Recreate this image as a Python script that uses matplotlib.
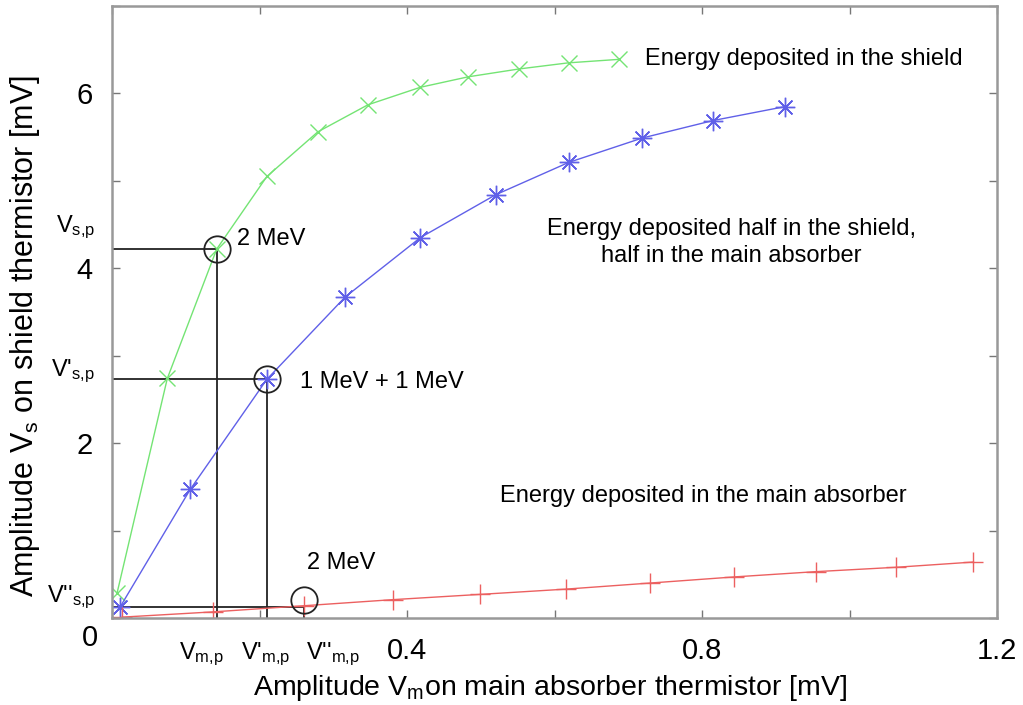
import matplotlib
matplotlib.use("Agg")
import matplotlib.pyplot as plt

plt.rcParams['font.family'] = ['Liberation Sans', 'DejaVu Sans']
plt.rcParams['mathtext.fontset'] = 'custom'
plt.rcParams['mathtext.rm'] = 'Liberation Sans'
plt.rcParams['mathtext.it'] = 'Liberation Sans'
plt.rcParams['mathtext.default'] = 'regular'

# datos (mV)
shield_x = [0.007, 0.075, 0.142, 0.210, 0.279, 0.347, 0.418, 0.483, 0.552, 0.619, 0.688]
shield_y = [0.29, 2.74, 4.22, 5.05, 5.56, 5.87, 6.07, 6.19, 6.28, 6.35, 6.39]

half_x = [0.011, 0.106, 0.210, 0.316, 0.418, 0.520, 0.619, 0.719, 0.815, 0.913]
half_y = [0.126, 1.47, 2.73, 3.67, 4.35, 4.84, 5.21, 5.49, 5.69, 5.85]

main_x = [0.014, 0.137, 0.260, 0.381, 0.499, 0.615, 0.730, 0.844, 0.954, 1.063, 1.168]
main_y = [0.01, 0.07, 0.14, 0.21, 0.27, 0.33, 0.40, 0.47, 0.53, 0.58, 0.64]

# puntos marcados con circulo (x, y)
ref_x = [0.142, 0.210, 0.261]
ref_y = [4.215, 2.73, 0.126]
circ_y = [4.215, 2.73, 0.206]
ref_ylabels = ["V$_{s{,}p}$", "V'$_{s{,}p}$", "V''$_{s{,}p}$"]
ref_ylabel_pos = [4.47, 2.82, 0.24]
ref_xlabels = ["V$_{m{,}p}$", "V'$_{m{,}p}$", "V''$_{m{,}p}$"]
ref_xlabel_pos = [0.121, 0.209, 0.300]

fig = plt.figure(figsize=(10.23, 7.05), dpi=100)
ax = fig.add_axes([112/1023, 1-618/705, (997-112)/1023, (618-6)/705])

ax.plot(shield_x, shield_y, color='#74e474', lw=1.0, marker='x', ms=12, mew=1.0)
ax.plot(half_x, half_y, color='#6060e8', lw=1.0, marker=(8, 2, 0), ms=14, mew=1.0)
ax.plot(main_x, main_y, color='#ec6060', lw=1.0, marker='+', ms=15, mew=1.0)

# lineas guia y circulos
for i in range(3):
    ax.plot([0, ref_x[i]], [ref_y[i], ref_y[i]], color='#222222', lw=1.3, zorder=1)
    ax.plot([ref_x[i], ref_x[i]], [0, ref_y[i]], color='#222222', lw=1.3, zorder=1)
    ax.plot(ref_x[i], circ_y[i], marker='o', ms=19, mfc='none', mec='#222222', mew=1.3)
    ax.text(-0.023, ref_ylabel_pos[i], ref_ylabels[i], ha='right', va='center', fontsize=17)
    ax.text(ref_xlabel_pos[i], -0.42, ref_xlabels[i], ha='center', va='center', fontsize=17)

ax.text(0.170, 4.33, "2 MeV", fontsize=17, va='center')
ax.text(0.255, 2.70, "1 MeV + 1 MeV", fontsize=17, va='center')
ax.text(0.265, 0.63, "2 MeV", fontsize=17, va='center')
ax.text(0.723, 6.39, "Energy deposited in the shield", fontsize=17, va='center')
ax.text(0.84, 4.30, "Energy deposited half in the shield,\nhalf in the main absorber",
        fontsize=17, ha='center', va='center', linespacing=1.3)
ax.text(0.526, 1.39, "Energy deposited in the main absorber", fontsize=17, va='center')

ax.set_xlim(0, 1.2)
ax.set_ylim(0, 7)
ax.set_xticks([0, 0.2, 0.4, 0.6, 0.8, 1.0, 1.2])
ax.set_xticklabels(['', '', '0.4', '', '0.8', '', '1.2'], fontsize=21)
ax.set_yticks([0, 1, 2, 3, 4, 5, 6, 7])
ax.set_yticklabels(['', '', '2', '', '4', '', '6', ''], fontsize=21)
ax.tick_params(direction='in', length=6, width=1, color='#777777', top=True, right=True, pad=14)
for s in ax.spines.values():
    s.set_color('#999999')
    s.set_linewidth(1.8)
fig.text(90/1023, 1-638/705, "0", fontsize=21, ha='center', va='center')

ax.set_xlabel("Amplitude V$_m$on main absorber thermistor [mV]", fontsize=20.5, va='center')
ax.xaxis.set_label_coords(0.495, -0.114)
ax.set_ylabel("Amplitude V$_s$ on shield thermistor [mV]", fontsize=22, va='center')
ax.yaxis.set_label_coords(-0.098, 0.46)

fig.savefig("out.png", dpi=100)
